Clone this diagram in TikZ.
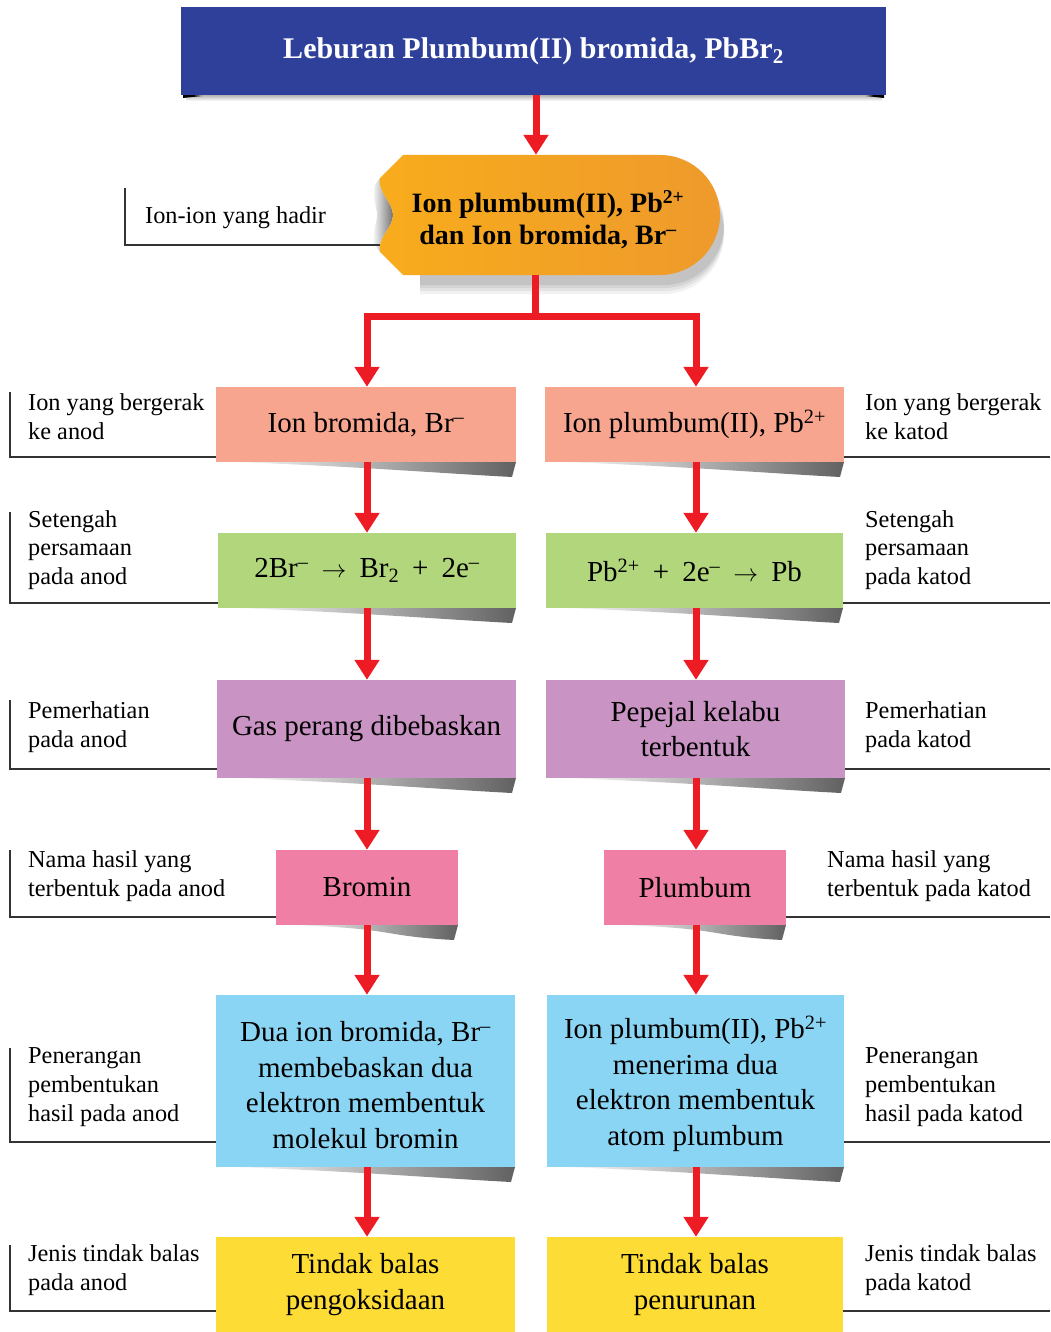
\documentclass[tikz,border=0pt]{standalone}
\usepackage{fontspec}
\setmainfont{Liberation Serif}
\usetikzlibrary{arrows.meta}
\definecolor{banner}{HTML}{2E4099}
\definecolor{redA}{HTML}{ED1C24}
\definecolor{salmon}{HTML}{F7A58F}
\definecolor{greenA}{HTML}{B2D67B}
\definecolor{purpleA}{HTML}{C993C4}
\definecolor{pinkA}{HTML}{F07FA6}
\definecolor{blueA}{HTML}{8BD5F4}
\definecolor{yellowA}{HTML}{FDDC35}
\definecolor{orangeL}{HTML}{F8AC1C}
\definecolor{orangeR}{HTML}{EE9A2C}
\newcommand\bshadow[3]{%
  \shade[left color=white, right color=black!62]
    (#1+12,#3) -- (#2,#3) -- (#2-4,#3+15) .. controls (#2-80,#3+11) and (#1+120,#3+3) .. (#1+12,#3) -- cycle;}
\tikzset{
  box/.style={inner sep=2pt, align=center, font=\fontsize{29}{35.5}\selectfont, text=black},
  lbl/.style={align=left, anchor=west, inner sep=0pt, font=\fontsize{24.3}{28.8}\selectfont, text=black},
  redarrow/.style={draw=redA, line width=7pt, -{Triangle[width=24pt,length=20pt]}},
  redline/.style={draw=redA, line width=7pt},
  bracket/.style={draw=black!80, line width=1.6pt},
}
\begin{document}
\begin{tikzpicture}[x=1pt,y=-1pt]
\useasboundingbox (0,0) rectangle (1050,1332);

% ---- banner ----
\shade[top color=black!30, bottom color=white] (186,95) rectangle (882,101);
\fill[black] (183,94) -- (202,96) -- (183,98) -- cycle;
\fill[black] (884,94) -- (866,96) -- (884,98) -- cycle;
\node[fill=banner, minimum width=705pt, minimum height=88pt, inner sep=0pt, text=white,
      font=\fontsize{30}{34}\selectfont\bfseries] (top) at (533.5,51)
      {Leburan Plumbum(II) bromida, PbBr\textsubscript{2}};

% ---- orange shape ----
\foreach \d/\o in {14/0.05, 11/0.06, 8/0.07, 5/0.08}{
  \fill[black, opacity=\o] (420,160+\d) -- (664,160+\d) arc[start angle=-90, end angle=90, radius=60] -- (420,280+\d) -- cycle;
}
\shade[left color=white, right color=black!55]
  (380,178) .. controls (377,192) and (393,202) .. (393,215)
  .. controls (393,228) and (377,238) .. (380,252)
  -- (374,244) .. controls (372,232) and (377,222) .. (377,215)
  .. controls (377,208) and (372,198) .. (374,186) -- cycle;
\shade[left color=orangeL, right color=orangeR]
  (403,155) -- (660,155) arc[start angle=-90, end angle=90, radius=60]
  -- (403,275) -- (380,252) .. controls (377,238) and (393,228) .. (393,215)
  .. controls (393,202) and (377,192) .. (380,178) -- cycle;
\node[minimum width=345pt, minimum height=120pt, inner sep=0pt] (ion) at (547.5,215) {};
\node[align=center, inner sep=0pt, font=\fontsize{28}{32}\selectfont\bfseries] (iontxt) at (548,220)
      {Ion plumbum(II), Pb\textsuperscript{2+}\\dan Ion bromida, Br\textsuperscript{--}};
\node[lbl] (lion) at (145,218) {Ion-ion yang hadir};
\draw[bracket] (125,188) |- (380,245);

% ---- shadows under boxes ----
\bshadow{216}{516}{462}
\bshadow{545}{844}{462}
\bshadow{218}{516}{608}
\bshadow{546}{843}{608}
\bshadow{217}{516}{778}
\bshadow{546}{845}{778}
\bshadow{276}{458}{925}
\bshadow{604}{786}{925}
\bshadow{216}{515}{1167}
\bshadow{547}{844}{1167}

% ---- boxes ----
\node[box, fill=salmon, minimum width=300pt, minimum height=75pt] (a1) at (366,424.5) {Ion bromida, Br\textsuperscript{--}};
\node[box, fill=salmon, minimum width=299pt, minimum height=75pt] (b1) at (694.5,424.5) {Ion plumbum(II), Pb\textsuperscript{2+}};
\node[box, fill=greenA, minimum width=298pt, minimum height=75pt] (a2) at (367,570.5)
  {2Br\textsuperscript{--}\hspace{.45em}$\rightarrow$\hspace{.45em}Br\textsubscript{2}\hspace{.45em}+\hspace{.45em}2e\textsuperscript{--}};
\node[box, fill=greenA, minimum width=297pt, minimum height=75pt] (b2) at (694.5,570.5)
  {Pb\textsuperscript{2+}\hspace{.45em}+\hspace{.45em}2e\textsuperscript{--}\hspace{.45em}$\rightarrow$\hspace{.45em}Pb};
\node[box, fill=purpleA, minimum width=299pt, minimum height=98pt] (a3) at (366.5,729) {Gas perang dibebaskan};
\node[box, fill=purpleA, minimum width=299pt, minimum height=98pt] (b3) at (695.5,729) {Pepejal kelabu\\terbentuk};
\node[box, fill=pinkA, minimum width=182pt, minimum height=75pt] (a4) at (367,887.5) {Bromin};
\node[box, fill=pinkA, minimum width=182pt, minimum height=75pt] (b4) at (695,887.5) {Plumbum};
\node[box, fill=blueA, minimum width=299pt, minimum height=172pt] (a5) at (365.5,1081) {};
\node[box, fill=blueA, minimum width=297pt, minimum height=172pt] (b5) at (695.5,1081) {};
\node[box, inner sep=0pt] (a5t) at (365.5,1085)
  {Dua ion bromida, Br\textsuperscript{--}\\membebaskan dua\\elektron membentuk\\molekul bromin};
\node[box, inner sep=0pt] (b5t) at (695.5,1084)
  {Ion plumbum(II), Pb\textsuperscript{2+}\\menerima dua\\elektron membentuk\\atom plumbum};
\node[box, fill=yellowA, minimum width=299pt, minimum height=95pt] (a6) at (365.5,1284.5) {Tindak balas\\pengoksidaan};
\node[box, fill=yellowA, minimum width=296pt, minimum height=95pt] (b6) at (695,1284.5) {Tindak balas\\penurunan};

% ---- arrows ----
\draw[redarrow] (top.south -| 536,0) -- (ion.north -| 536,0);
\coordinate (sp) at (535,316);
\draw[redline] (sp |- ion.south) -- (sp);
\draw[redarrow] (sp) -| (a1.north -| 367,0);
\draw[redarrow] (sp) -| (b1.north -| 696,0);
\draw[redarrow] (a1.south -| 367,0) -- (a2.north -| 367,0);
\draw[redarrow] (a2.south -| 367,0) -- (a3.north -| 367,0);
\draw[redarrow] (a3.south -| 367,0) -- (a4.north -| 367,0);
\draw[redarrow] (a4.south -| 367,0) -- (a5.north -| 367,0);
\draw[redarrow] (a5.south -| 367,0) -- (a6.north -| 367,0);
\draw[redarrow] (b1.south -| 696,0) -- (b2.north -| 696,0);
\draw[redarrow] (b2.south -| 696,0) -- (b3.north -| 696,0);
\draw[redarrow] (b3.south -| 696,0) -- (b4.north -| 696,0);
\draw[redarrow] (b4.south -| 696,0) -- (b5.north -| 696,0);
\draw[redarrow] (b5.south -| 696,0) -- (b6.north -| 696,0);

% ---- labels left ----
\node[lbl] (la1) at (28,416.5) {Ion yang bergerak\\ke anod};
\node[lbl] (la2) at (28,550) {Setengah\\persamaan\\pada anod};
\node[lbl] (la3) at (28,727) {Pemerhatian\\pada anod};
\node[lbl] (la4) at (28,876) {Nama hasil yang\\terbentuk pada anod};
\node[lbl] (la5) at (28,1087) {Penerangan\\pembentukan\\hasil pada anod};
\node[lbl] (la6) at (28,1270.5) {Jenis tindak balas\\pada anod};
\draw[bracket] (10,392) |- (a1.west |- 0,457);
\draw[bracket] (10,512) |- (a2.west |- 0,603);
\draw[bracket] (10,700) |- (a3.west |- 0,769);
\draw[bracket] (10,850) |- (a4.west |- 0,917);
\draw[bracket] (10,1048) |- (a5.west |- 0,1142);
\draw[bracket] (10,1245) |- (a6.west |- 0,1311);

% ---- labels right ----
\node[lbl] (lb1) at (865,416.5) {Ion yang bergerak\\ke katod};
\node[lbl] (lb2) at (865,550) {Setengah\\persamaan\\pada katod};
\node[lbl] (lb3) at (865,727) {Pemerhatian\\pada katod};
\node[lbl] (lb4) at (827,876) {Nama hasil yang\\terbentuk pada katod};
\node[lbl] (lb5) at (865,1087) {Penerangan\\pembentukan\\hasil pada katod};
\node[lbl] (lb6) at (865,1270.5) {Jenis tindak balas\\pada katod};
\draw[bracket] (b1.east |- 0,457) -- (1050,457);
\draw[bracket] (b2.east |- 0,603) -- (1050,603);
\draw[bracket] (b3.east |- 0,769) -- (1050,769);
\draw[bracket] (b4.east |- 0,917) -- (1050,917);
\draw[bracket] (b5.east |- 0,1142) -- (1050,1142);
\draw[bracket] (b6.east |- 0,1311) -- (1050,1311);
\end{tikzpicture}
\end{document}
